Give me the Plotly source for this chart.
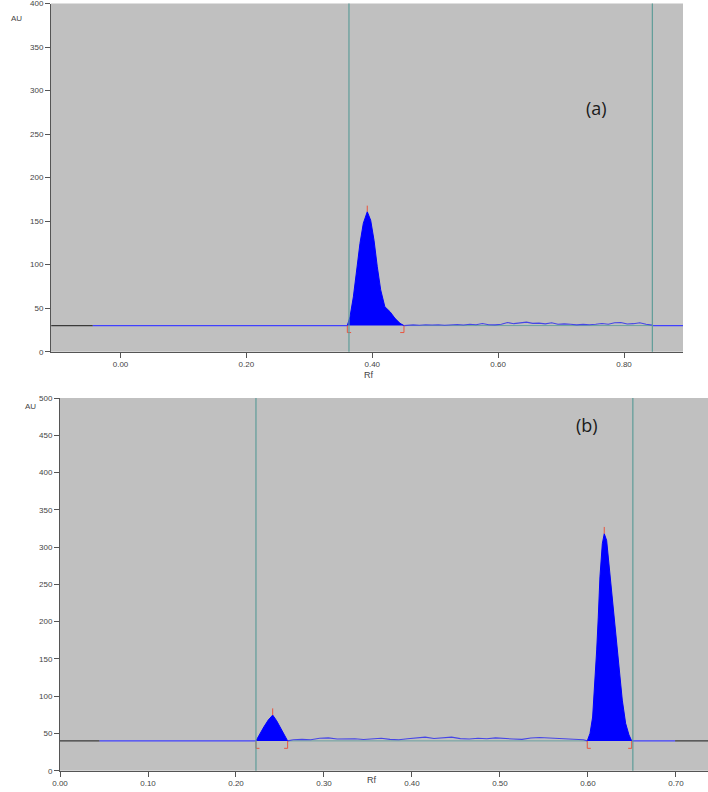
import plotly.graph_objects as go

# ---------------- data: panel (a) ----------------
A_BASE = 30
a_black_rf = [-0.110, -0.044]
a_blue_left_rf = [-0.044, 0.3604]
a_peak_rf = [0.3604, 0.3646, 0.3700, 0.3753, 0.3805, 0.3858, 0.3921, 0.3975, 0.4028,
             0.4080, 0.4134, 0.4200, 0.4282, 0.4361, 0.4441, 0.4504]
a_peak_au = [30, 40, 63, 94, 124.5, 147.5, 160.8, 151, 128,
             97.6, 71, 51.7, 46, 38.3, 32.6, 30]
a_noise_rf = [0.4504, 0.455, 0.465, 0.475, 0.485, 0.495, 0.505, 0.515, 0.525, 0.535, 0.545,
              0.555, 0.565, 0.575, 0.585, 0.595, 0.605, 0.615, 0.625, 0.635, 0.645,
              0.655, 0.665, 0.675, 0.685, 0.695, 0.705, 0.715, 0.725, 0.735, 0.745,
              0.755, 0.765, 0.775, 0.785, 0.795, 0.805, 0.815, 0.825, 0.835, 0.845]
a_noise_au = [30, 30.5, 30.8, 30.4, 31.0, 30.6, 30.9, 30.3, 30.8, 31.2, 30.6,
              31.5, 31.0, 32.3, 31.0, 30.8, 31.5, 33.5, 32.2, 33.0, 34.0,
              32.5, 32.8, 32.0, 33.2, 31.5, 32.0, 31.5, 30.8, 31.4, 31.0,
              31.6, 32.4, 31.5, 33.2, 33.6, 31.8, 32.2, 33.3, 31.5, 30.5]
a_blue_right_rf = [0.845, 0.894]
a_window = [0.363, 0.845]
a_xrange = [-0.1104, 0.8937]
a_yrange = [0, 400]
a_xticks = [0.0, 0.2, 0.4, 0.6, 0.8]
a_yticks = [0, 50, 100, 150, 200, 250, 300, 350, 400]

# ---------------- data: panel (b) ----------------
B_BASE = 40
b_black_left_rf = [0.0, 0.045]
b_blue_left_rf = [0.045, 0.2227]
b_peak1_rf = [0.2227, 0.2273, 0.2318, 0.2367, 0.2417, 0.2462, 0.2508, 0.2557, 0.2587]
b_peak1_au = [40, 50, 59, 68, 74.6, 67, 56.8, 45.5, 40]
b_noise_rf = [0.2587, 0.265, 0.275, 0.285, 0.295, 0.305, 0.315, 0.325, 0.335, 0.345, 0.355,
              0.365, 0.375, 0.385, 0.395, 0.405, 0.415, 0.425, 0.435, 0.445, 0.455,
              0.465, 0.475, 0.485, 0.495, 0.505, 0.515, 0.525, 0.535, 0.545, 0.555,
              0.565, 0.575, 0.585, 0.595, 0.5992]
b_noise_au = [40, 41.5, 42.0, 41.5, 43.5, 44.0, 42.5, 43.0, 42.8, 41.8, 42.5,
              43.5, 42.0, 41.5, 42.8, 43.5, 45.0, 43.2, 44.5, 45.0, 43.0,
              42.5, 43.5, 42.8, 44.0, 43.0, 42.5, 42.0, 43.8, 44.5, 44.0,
              43.0, 42.5, 43.0, 41.5, 40]
b_peak2_rf = [0.5992, 0.6023, 0.6053, 0.6080, 0.6099, 0.6117, 0.6136, 0.6163, 0.6185,
              0.6212, 0.6242, 0.6276, 0.6315, 0.6352, 0.6390, 0.6428, 0.6466, 0.6497]
b_peak2_au = [40, 50, 72, 117, 162, 206, 260, 304.5, 318,
              309, 273, 228.6, 184, 139, 94.7, 63.5, 48, 40]
b_blue_right_rf = [0.6497, 0.699]
b_black_right_rf = [0.699, 0.7364]
b_window = [0.2227, 0.651]
b_xrange = [0.0, 0.7364]
b_yrange = [0, 500]
b_xticks = [0.0, 0.1, 0.2, 0.3, 0.4, 0.5, 0.6, 0.7]
b_yticks = [0, 50, 100, 150, 200, 250, 300, 350, 400, 450, 500]

# ---------------- styles ----------------
W, H = 708, 792
BLACK = "#3a3a3a"
BLUE_BASE = "#4040ff"
PEAK = "#0000ff"
NOISE = "#4646e6"
TEAL = "#6aa39f"
WIN = "#5e9c98"
RED = "#e8553f"
FONT = "Liberation Sans"


def px(x):
    return x / W


def py(y):
    return 1 - y / H


fig = go.Figure()


def seg(xs, base, color, xa, ya, width=1.2):
    fig.add_trace(go.Scatter(x=xs, y=[base] * len(xs), mode="lines",
                             line=dict(color=color, width=width),
                             xaxis=xa, yaxis=ya, hoverinfo="skip"))


def peak(xs, ys, xa, ya):
    fig.add_trace(go.Scatter(x=xs, y=ys, mode="lines", fill="toself",
                             fillcolor=PEAK, line=dict(color=PEAK, width=1),
                             xaxis=xa, yaxis=ya, hoverinfo="skip"))


def marks(peaks, base, xa, ya, drop, foot, tick):
    mx, my = [], []
    for xs, ys in peaks:
        s, e = xs[0], xs[-1]
        i = ys.index(max(ys))
        a, h = xs[i], ys[i]
        mx += [s, s, s + foot, None, e, e, e - foot, None, a, a, None]
        my += [base, base - drop, base - drop, None, base, base - drop, base - drop, None,
               h, h + tick, None]
    fig.add_trace(go.Scatter(x=mx, y=my, mode="lines", line=dict(color=RED, width=1),
                             xaxis=xa, yaxis=ya, hoverinfo="skip"))


# panel (a)
seg(a_black_rf, A_BASE, BLACK, "x", "y")
seg(a_blue_left_rf, A_BASE, BLUE_BASE, "x", "y")
seg([a_noise_rf[0], a_noise_rf[-1]], A_BASE, TEAL, "x", "y", 1)
fig.add_trace(go.Scatter(x=a_noise_rf, y=a_noise_au, mode="lines",
                         line=dict(color=NOISE, width=1.1), xaxis="x", yaxis="y", hoverinfo="skip"))
seg(a_blue_right_rf, A_BASE, BLUE_BASE, "x", "y")
peak(a_peak_rf, a_peak_au, "x", "y")
marks([(a_peak_rf, a_peak_au)], A_BASE, "x", "y", 8, 0.006, 7)

# panel (b)
seg(b_black_left_rf, B_BASE, BLACK, "x2", "y2")
seg(b_blue_left_rf, B_BASE, BLUE_BASE, "x2", "y2")
seg([b_noise_rf[0], b_noise_rf[-1]], B_BASE, TEAL, "x2", "y2", 1)
fig.add_trace(go.Scatter(x=b_noise_rf, y=b_noise_au, mode="lines",
                         line=dict(color=NOISE, width=1.1), xaxis="x2", yaxis="y2", hoverinfo="skip"))
seg(b_blue_right_rf, B_BASE, BLUE_BASE, "x2", "y2")
seg(b_black_right_rf, B_BASE, BLACK, "x2", "y2")
peak(b_peak1_rf, b_peak1_au, "x2", "y2")
peak(b_peak2_rf, b_peak2_au, "x2", "y2")
marks([(b_peak1_rf, b_peak1_au), (b_peak2_rf, b_peak2_au)], B_BASE, "x2", "y2", 10, 0.004, 9)

shapes = []
for v in a_window:
    shapes.append(dict(type="line", xref="x", yref="y domain", x0=v, x1=v, y0=0, y1=1,
                       line=dict(color=WIN, width=1.2), layer="above"))
for v in b_window:
    shapes.append(dict(type="line", xref="x2", yref="y2 domain", x0=v, x1=v, y0=0, y1=1,
                       line=dict(color=WIN, width=1.2), layer="above"))

axis_common = dict(showgrid=False, zeroline=False, showline=True, linecolor="#555555",
                   linewidth=1, ticks="outside", ticklen=5, tickcolor="#555555",
                   tickfont=dict(family=FONT, size=8, color="#444444"), mirror=False,
                   fixedrange=True, automargin=False, ticklabeloverflow="allow")

annotations = [
    dict(text="AU", x=px(9), y=py(12), xref="paper", yref="paper", showarrow=False,
         font=dict(family=FONT, size=8, color="#444444")),
    dict(text="Rf", x=px(369), y=py(375), xref="paper", yref="paper", showarrow=False,
         font=dict(family=FONT, size=9, color="#444444")),
    dict(text="(a)", x=px(609), y=py(94), xref="paper", yref="paper", showarrow=False,
         font=dict(family="Open Sans", size=18, color="#1a1a1a")),
    dict(text="AU", x=px(23), y=py(407), xref="paper", yref="paper", showarrow=False,
         font=dict(family=FONT, size=8, color="#444444")),
    dict(text="Rf", x=px(372), y=py(787), xref="paper", yref="paper", showarrow=False,
         font=dict(family=FONT, size=9, color="#444444")),
    dict(text="(b)", x=px(600), y=py(425), xref="paper", yref="paper", showarrow=False,
         font=dict(family="Open Sans", size=18, color="#1a1a1a")),
]

fig.update_layout(
    width=W, height=H, margin=dict(l=0, r=0, t=0, b=0, autoexpand=False),
    paper_bgcolor="white", plot_bgcolor="#c0c0c0", showlegend=False,
    xaxis=dict(domain=[px(51), px(683)], range=a_xrange, tickvals=a_xticks,
               tickformat=".2f", anchor="y", **axis_common),
    yaxis=dict(domain=[py(351.7), py(3.5)], range=a_yrange, tickvals=a_yticks,
               anchor="x", **axis_common),
    xaxis2=dict(domain=[px(60), 1.0], range=b_xrange, tickvals=b_xticks,
                tickformat=".2f", anchor="y2", **axis_common),
    yaxis2=dict(domain=[py(770.7), py(398)], range=b_yrange, tickvals=b_yticks,
                anchor="x2", **axis_common),
    shapes=shapes, annotations=annotations,
)

fig.write_html("out.html", config={"displayModeBar": False},
               post_script="document.body.style.margin='0';")
